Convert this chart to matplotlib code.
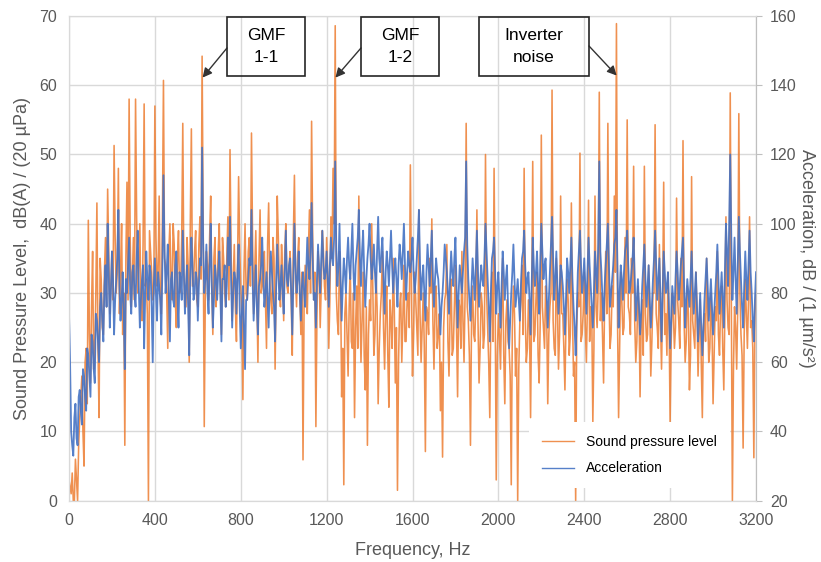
import numpy as np
import matplotlib
matplotlib.use("Agg")
import matplotlib.pyplot as plt
from matplotlib.patches import Rectangle

plt.rcParams['font.family'] = ['Liberation Sans', 'DejaVu Sans']

# --- datos ---
# valores en 0, 10, 20 ... 3200 Hz y valores intermedios en 5, 15 ... 3195 Hz
freq_step = 10
freq_max = 3200

# nivel de presion sonora, dB(A) / (20 uPa), en 0, 10, ... 3200 Hz
spl = [
    3, 1, 0, 6, 0, 12, 18, 5, 22, 40.5,
    17, 36, 21, 43, 12, 32, 24, 38, 45, 27,
    36, 51.3, 30, 48, 33, 24, 8, 46, 58, 28,
    38, 58, 30, 40, 26, 57.3, 32, 0, 36, 29,
    57, 31, 44, 27, 60.7, 34, 22, 40, 29, 37,
    25, 39, 31, 54.5, 28, 38, 20, 53.7, 31, 39,
    28, 41, 64.2, 10.7, 36, 29, 44, 24, 38, 31,
    40, 24, 35, 28, 41, 50.7, 26, 37, 23, 46.8,
    31, 14.6, 40, 29, 38, 53.1, 27, 39, 20, 42,
    31, 36, 22, 43, 29, 38, 19, 44, 31, 37,
    26, 40, 30, 36, 21, 47, 28, 38, 24, 5.9,
    34, 27, 42, 54.8, 29, 10.7, 36, 25, 39, 31,
    38, 22, 41, 48, 68.6, 26, 36, 15, 2.3, 30,
    18, 34, 22, 12, 31, 44, 20, 33, 16, 8,
    29, 40, 21, 33, 14, 27, 36, 19, 31, 13.5,
    26, 35, 17, 1.5, 28, 20, 34, 23, 30, 48.5,
    18, 33, 25, 42, 20, 30, 7.1, 27, 35, 40.7,
    19, 31, 24, 13, 6.3, 29, 37, 18, 32, 22,
    34, 15, 28, 36, 20, 54.5, 26, 8, 31, 23,
    42, 17, 30, 22, 50, 25, 12, 33, 48, 3,
    27, 19, 35, 14, 29, 22, 2.3, 31, 18, 0,
    26, 34, 48, 20, 29, 12, 49, 24, 33, 17,
    52.8, 25, 31, 14, 28, 59.3, 22, 35, 19, 44,
    27, 16, 32, 21, 43, 18, 0, 30, 50.2, 24,
    33, 20, 43.4, 28, 11.4, 44, 25, 59, 30, 17,
    36, 54.5, 22, 31, 44, 68.9, 12, 33, 24, 38,
    55, 27, 35, 48.3, 20, 31, 15, 29, 48.3, 23,
    34, 18, 30, 54.3, 25, 37, 19, 46, 27, 33,
    11.4, 30, 22, 43.7, 26, 35, 52, 20, 31, 16,
    46.8, 24, 33, 18, 29, 12, 27, 35, 20, 30,
    14, 28, 36, 21, 31, 16, 41, 25, 58.9, 0,
    28, 19, 55.9, 24, 7.6, 32, 22, 41, 26, 6.2,
    30,
]

# nivel de presion sonora en 5, 15, ... 3195 Hz
spl_mid = [
    2, 4, 0, 3, 8, 15, 10, 20, 14, 24,
    28, 19, 30, 22, 35, 25, 33, 28, 36, 31,
    29, 38, 33, 27, 40, 30, 35, 29, 38, 32,
    29, 41, 34, 28, 37, 31, 27, 39, 33, 30,
    38, 33, 29, 40, 35, 30, 36, 32, 40, 29,
    35, 30, 38, 33, 28, 34, 40, 31, 36, 29,
    37, 32, 40, 30, 34, 38, 31, 35, 28, 36,
    31, 38, 30, 35, 29, 36, 32, 28, 34, 37,
    27, 33, 30, 36, 31, 38, 33, 29, 35, 30,
    34, 29, 37, 32, 27, 35, 31, 38, 28, 33,
    36, 31, 34, 29, 38, 32, 35, 30, 33, 28,
    31, 36, 30, 38, 33, 27, 34, 31, 36, 29,
    33, 29, 35, 40, 30, 24, 31, 22, 27, 24,
    28, 23, 30, 25, 22, 29, 26, 21, 28, 24,
    26, 31, 24, 28, 22, 30, 25, 27, 21, 29,
    22, 28, 25, 20, 30, 26, 23, 29, 25, 31,
    24, 29, 21, 27, 25, 22, 28, 24, 30, 26,
    28, 22, 27, 20, 25, 30, 23, 27, 21, 28,
    25, 29, 22, 26, 30, 28, 21, 26, 24, 29,
    26, 22, 28, 24, 30, 20, 27, 23, 29, 21,
    24, 28, 21, 26, 23, 18, 25, 27, 22, 19,
    29, 24, 27, 22, 25, 28, 23, 29, 21, 26,
    28, 22, 27, 24, 30, 26, 21, 28, 24, 27,
    22, 26, 29, 24, 27, 20, 25, 28, 23, 27,
    25, 29, 23, 27, 22, 28, 31, 26, 24, 29,
    27, 30, 24, 28, 33, 26, 23, 29, 25, 30,
    28, 24, 30, 26, 23, 28, 25, 21, 27, 24,
    28, 23, 30, 27, 22, 26, 29, 24, 21, 26,
    23, 27, 25, 29, 22, 28, 26, 23, 27, 21,
    26, 22, 28, 24, 20, 25, 23, 27, 22, 25,
    21, 26, 24, 28, 22, 27, 29, 24, 30, 19,
    25, 28, 30, 21, 24, 27, 29, 25, 22, 27,
]

# aceleracion, dB / (1 um/s2), en 0, 10, ... 3200 Hz
acc = [
    74, 40, 33, 48, 36, 52, 42, 56, 46, 62,
    50, 66, 54, 72, 60, 80, 66, 88, 100, 70,
    92, 68, 84, 104, 72, 86, 58, 80, 96, 74,
    88, 76, 98, 70, 84, 64, 92, 78, 86, 60,
    90, 72, 82, 68, 114, 80, 94, 66, 86, 76,
    92, 70, 84, 98, 74, 88, 62, 96, 78, 86,
    72, 90, 122, 80, 94, 74, 100, 70, 88, 78,
    92, 66, 84, 76, 96, 102, 70, 86, 74, 94,
    64, 82, 58, 78, 90, 104, 72, 88, 68, 84,
    96, 76, 86, 70, 92, 80, 66, 94, 78, 88,
    74, 98, 82, 90, 68, 100, 80, 92, 72, 86,
    76, 96, 84, 106, 78, 70, 94, 80, 98, 84,
    92, 76, 96, 88, 118, 82, 100, 72, 90, 80,
    96, 84, 100, 78, 92, 104, 82, 98, 76, 90,
    100, 84, 94, 80, 102, 86, 96, 74, 92, 82,
    98, 80, 90, 76, 94, 84, 100, 78, 92, 86,
    96, 80, 90, 104, 78, 88, 72, 94, 82, 98,
    76, 90, 84, 68, 80, 94, 86, 74, 92, 82,
    96, 70, 88, 80, 92, 118, 84, 72, 90, 78,
    98, 76, 88, 82, 100, 84, 66, 90, 96, 74,
    86, 70, 92, 78, 88, 64, 80, 94, 76, 84,
    72, 90, 98, 80, 86, 68, 96, 82, 92, 74,
    100, 84, 90, 70, 86, 102, 78, 92, 74, 88,
    82, 68, 90, 80, 96, 76, 62, 86, 98, 80,
    90, 74, 96, 82, 70, 92, 80, 118, 86, 72,
    88, 100, 76, 84, 94, 104, 70, 88, 78, 92,
    98, 80, 86, 96, 72, 84, 68, 82, 94, 76,
    88, 70, 84, 98, 78, 90, 66, 92, 80, 86,
    64, 82, 74, 92, 78, 88, 96, 70, 84, 76,
    92, 74, 86, 66, 80, 62, 78, 90, 72, 84,
    68, 80, 94, 74, 86, 70, 100, 82, 120, 78,
    96, 74, 102, 84, 70, 92, 78, 98, 80, 66,
    86,
]

# aceleracion en 5, 15, ... 3195 Hz
acc_mid = [
    60, 36, 44, 38, 50, 46, 58, 50, 64, 56,
    68, 58, 74, 66, 76, 72, 82, 76, 86, 80,
    84, 78, 90, 82, 78, 74, 84, 88, 80, 86,
    80, 90, 82, 78, 88, 80, 84, 88, 76, 82,
    80, 86, 78, 88, 92, 86, 80, 84, 78, 88,
    80, 86, 78, 86, 82, 76, 84, 88, 80, 84,
    82, 88, 94, 84, 80, 88, 82, 78, 84, 86,
    80, 84, 88, 82, 88, 84, 80, 84, 86, 76,
    74, 70, 78, 84, 88, 84, 80, 76, 82, 88,
    84, 80, 78, 84, 86, 76, 82, 86, 82, 80,
    86, 84, 88, 80, 84, 88, 84, 80, 82, 80,
    86, 88, 92, 90, 80, 84, 86, 90, 88, 86,
    84, 88, 90, 96, 92, 88, 84, 82, 86, 90,
    88, 92, 86, 88, 96, 90, 92, 86, 84, 94,
    90, 88, 86, 92, 90, 92, 84, 86, 88, 90,
    88, 86, 84, 88, 90, 92, 88, 86, 88, 90,
    86, 84, 96, 88, 84, 80, 86, 88, 90, 84,
    84, 86, 78, 76, 86, 90, 80, 84, 86, 90,
    82, 80, 84, 86, 96, 94, 78, 82, 84, 88,
    86, 82, 84, 90, 92, 76, 80, 92, 86, 82,
    78, 82, 86, 84, 76, 72, 86, 84, 80, 78,
    82, 92, 88, 84, 78, 82, 88, 86, 82, 88,
    92, 88, 80, 78, 94, 90, 84, 82, 80, 86,
    76, 78, 86, 88, 84, 70, 74, 92, 88, 84,
    82, 86, 88, 76, 80, 86, 94, 92, 78, 82,
    94, 88, 80, 88, 96, 86, 80, 84, 86, 94,
    88, 82, 90, 84, 78, 76, 74, 88, 84, 82,
    78, 76, 90, 88, 84, 78, 80, 86, 82, 74,
    72, 78, 84, 86, 82, 92, 82, 78, 80, 84,
    82, 80, 76, 72, 70, 70, 84, 82, 78, 76,
    74, 86, 84, 80, 78, 86, 92, 100, 96, 86,
    84, 88, 92, 76, 82, 84, 88, 86, 72, 78,
]

# anotaciones: texto, caja (px imagen x0, x1, y0, y1), inicio flecha (px), punta (Hz, dB(A))
notas = [
    ("GMF\n1-1", (227, 305, 17, 76), (227, 48), (622, 61.1)),
    ("GMF\n1-2", (361, 439, 17, 76), (361, 48), (1241, 61.1)),
    ("Inverter\nnoise", (479, 589, 17, 76), (589, 46), (2551, 61.4)),
]

# unir ambas rejillas de frecuencia
f_main = np.arange(0, freq_max + freq_step, freq_step)
f_mid = np.arange(freq_step / 2, freq_max, freq_step)
freqs = np.concatenate([f_main, f_mid])
orden = np.argsort(freqs)
freqs = freqs[orden]
spl_all = np.concatenate([spl, spl_mid])[orden]
acc_all = np.concatenate([acc, acc_mid])[orden]

W, H = 821, 562
gris = '#595959'
rejilla = '#D9D9D9'

fig = plt.figure(figsize=(W / 100, H / 100), dpi=100)
ax = fig.add_axes([69 / W, 1 - 500.7 / H, (756 - 69) / W, (500.7 - 16) / H])
ax2 = ax.twinx()

l1, = ax.plot(freqs, spl_all, color='#ED7D31', lw=1.15, alpha=0.85, label='Sound pressure level')
l2, = ax2.plot(freqs, acc_all, color='#4472C4', lw=1.3, alpha=0.9, label='Acceleration')

ax.set_xlim(0, 3200)
ax.set_ylim(0, 70)
ax2.set_ylim(20, 160)
ax.set_xticks(np.arange(0, 3201, 400))
ax.set_yticks(np.arange(0, 71, 10))
ax2.set_yticks(np.arange(20, 161, 20))

ax.grid(True, color=rejilla, lw=1)
ax.set_axisbelow(True)
for a in (ax, ax2):
    for s in a.spines.values():
        s.set_color(rejilla)
ax2.spines['right'].set_color('#BFBFBF')

ax.tick_params(axis='both', length=0, labelsize=11.5, labelcolor=gris)
ax.tick_params(axis='y', pad=8.5)
ax.tick_params(axis='x', pad=9)
ax2.tick_params(axis='y', length=4, color='#BFBFBF', labelsize=11.5, labelcolor=gris, pad=6)

ax.set_xlabel('Frequency, Hz', fontsize=13, color=gris, labelpad=10)
ax.set_ylabel('Sound Pressure Level,  dB(A) / (20 µPa)', fontsize=13, color=gris, labelpad=6)
ax2.set_ylabel('Acceleration, dB / (1 µm/s²)', fontsize=13, color=gris, rotation=270, labelpad=13)

leg = ax2.legend(handles=[l1, l2], loc='lower left', bbox_to_anchor=(0.66, 0.012),
                 frameon=True, fontsize=10, handlelength=2.3, labelspacing=0.9,
                 borderpad=0.9, handletextpad=0.9)
leg.get_frame().set_facecolor('white')
leg.get_frame().set_edgecolor('none')
leg.get_frame().set_alpha(1)
for ln in leg.get_lines():
    ln.set_linewidth(1.0)

for texto, (x0, x1, y0, y1), (sx, sy), (tf, tv) in notas:
    fig.add_artist(Rectangle((x0 / W, 1 - y1 / H), (x1 - x0) / W, (y1 - y0) / H,
                             transform=fig.transFigure, fill=False, ec='#262626', lw=1.2))
    fig.text((x0 + x1) / 2 / W, 1 - (y0 + y1) / 2 / H, texto, ha='center', va='center',
             fontsize=12.5, color='black', linespacing=1.5)
    ax.annotate('', xy=(tf, tv), xycoords='data',
                xytext=(sx / W, 1 - sy / H), textcoords='figure fraction',
                arrowprops=dict(arrowstyle='-|>', color='#333333', lw=1, mutation_scale=14,
                                shrinkA=0, shrinkB=0))

fig.savefig('out.png', dpi=100)
